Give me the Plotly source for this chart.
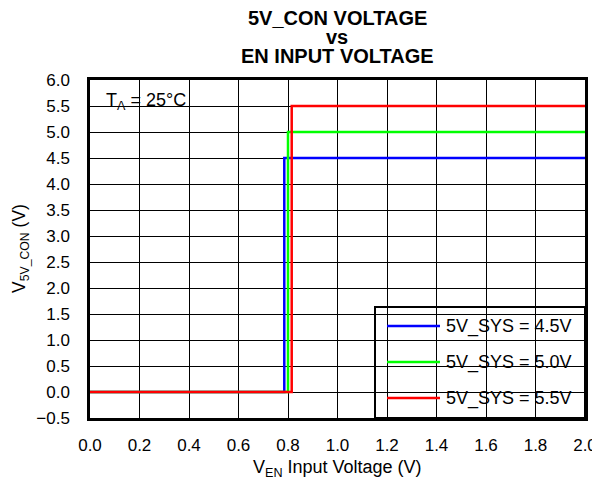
import plotly.graph_objects as go

# Data
x_blue = [0.0, 0.785, 0.785, 2.0]
y_blue = [0.0, 0.0, 4.5, 4.5]
x_green = [0.0, 0.80, 0.80, 2.0]
y_green = [0.0, 0.0, 5.0, 5.0]
x_red = [0.0, 0.815, 0.815, 2.0]
y_red = [0.0, 0.0, 5.5, 5.5]
names = ["5V_SYS = 4.5V", "5V_SYS = 5.0V", "5V_SYS = 5.5V"]
colors = ["#0000ff", "#00ff00", "#ff0000"]
x_ticks = [0.0, 0.2, 0.4, 0.6, 0.8, 1.0, 1.2, 1.4, 1.6, 1.8, 2.0]
x_ticklabels = ["0.0", "0.2", "0.4", "0.6", "0.8", "1.0", "1.2", "1.4", "1.6", "1.8", "2.0"]
y_ticks = [-0.5, 0.0, 0.5, 1.0, 1.5, 2.0, 2.5, 3.0, 3.5, 4.0, 4.5, 5.0, 5.5, 6.0]
y_ticklabels = ["\u22120.5", "0.0", "0.5", "1.0", "1.5", "2.0", "2.5", "3.0", "3.5", "4.0", "4.5", "5.0", "5.5", "6.0"]
title_lines = ["5V_CON VOLTAGE", "vs", "EN INPUT VOLTAGE"]

FONT = "Liberation Sans, Arial, sans-serif"
OFF = 8  # page body margin
W, H = 600 - OFF, 481 - OFF
L, T = 90 - OFF, 80 - OFF
R, B = W - (585 - OFF), H - (418 - OFF)
PW, PH = W - L - R, H - T - B

def px(xp):
    return (xp - OFF - L) / PW

def py(yp):
    return (H - B - (yp - OFF)) / PH

fig = go.Figure()
for xs, ys, nm, c in zip([x_blue, x_green, x_red], [y_blue, y_green, y_red], names, colors):
    fig.add_trace(go.Scatter(x=xs, y=ys, mode="lines", name=nm,
                             line=dict(color=c, width=2.5), showlegend=False))

fig.update_layout(
    width=W, height=H,
    margin=dict(l=L, r=R, t=T, b=B, autoexpand=False),
    paper_bgcolor="white", plot_bgcolor="white",
    font=dict(family=FONT, size=17, color="black"),
)
fig.update_xaxes(range=[0, 2], tickvals=x_ticks, ticktext=x_ticklabels,
                 showgrid=True, gridcolor="black", gridwidth=1,
                 showline=True, linecolor="black", linewidth=2.5, mirror=True,
                 ticks="", zeroline=False, automargin=False, ticklabelstandoff=10,
                 tickfont=dict(size=17))
fig.update_yaxes(range=[-0.5, 6.0], tickvals=y_ticks, ticktext=y_ticklabels,
                 showgrid=True, gridcolor="black", gridwidth=1,
                 showline=True, linecolor="black", linewidth=2.5, mirror=True,
                 ticks="", zeroline=False, automargin=False, ticklabelstandoff=14,
                 tickfont=dict(size=17))

# Title lines
for txt, yc in zip(title_lines, [17.5, 37.5, 56.5]):
    fig.add_annotation(xref="paper", yref="paper", x=px(337), y=py(yc), text="<b>" + txt + "</b>",
                       showarrow=False, xanchor="center", yanchor="middle",
                       font=dict(size=20))

# Axis titles
fig.add_annotation(xref="paper", yref="paper", x=px(337), y=py(468),
                   text="V<sub>EN</sub> Input Voltage (V)", showarrow=False,
                   xanchor="center", yanchor="middle", font=dict(size=18))
fig.add_annotation(xref="paper", yref="paper", x=px(20), y=py(249),
                   text="V<sub>5V_CON</sub> (V)", showarrow=False, textangle=-90,
                   xanchor="center", yanchor="middle", font=dict(size=17.5))

# T_A box
fig.add_shape(type="rect", xref="paper", yref="paper", x0=0, x1=px(198), y0=py(117), y1=py(88),
              fillcolor="white", line=dict(width=0), layer="between")
fig.add_annotation(xref="paper", yref="paper", x=px(146), y=py(101), text="T<sub>A</sub> = 25°C",
                   showarrow=False, xanchor="center", yanchor="middle", font=dict(size=18))

# Legend box
fig.add_shape(type="rect", xref="paper", yref="paper", x0=px(375), x1=1.0, y0=0.0, y1=py(307),
              fillcolor="white", line=dict(color="black", width=2), layer="between")
for nm, c, ry in zip(names, colors, [326, 362, 398]):
    fig.add_shape(type="line", xref="paper", yref="paper", x0=px(387), x1=px(440),
                  y0=py(ry), y1=py(ry), line=dict(color=c, width=2.5))
    fig.add_annotation(xref="paper", yref="paper", x=px(444), y=py(ry), text=nm,
                       showarrow=False, xanchor="left", yanchor="middle", font=dict(size=18))

fig.write_html("out.html")
